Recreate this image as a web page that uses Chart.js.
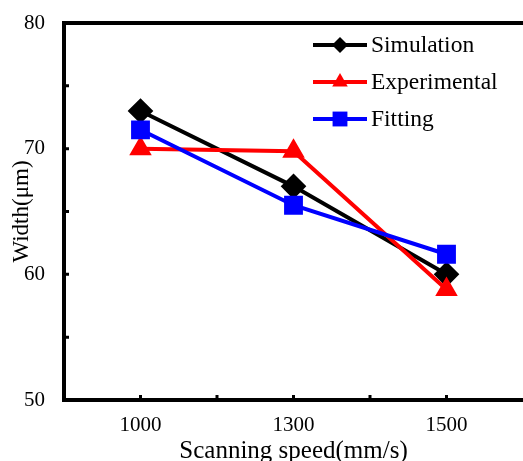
<!DOCTYPE html>
<html>
<head>
<meta charset="utf-8">
<script src="https://cdn.jsdelivr.net/npm/chart.js@4/dist/chart.umd.min.js"></script>
<style>
html,body{margin:0;padding:0;background:#fff;overflow:hidden;}
#wrap{width:523px;height:461px;}
</style>
</head>
<body>
<div id="wrap"><canvas id="c" width="523" height="461"></canvas></div>
<script>
const categories = ['1000', '1300', '1500'];
const simulation = [73, 67, 60];
const experimental = [70, 69.8, 58.8];
const fitting = [71.5, 65.5, 61.6];
const yTicks = [50, 60, 70, 80];
const seriesNames = ['Simulation', 'Experimental', 'Fitting'];

const FONT = "'Liberation Serif', 'Times New Roman', serif";

const extras = {
  id: 'extras',
  afterDraw(chart) {
    const ctx = chart.ctx;
    const a = chart.chartArea;
    const xs = chart.scales.x, ys = chart.scales.y;
    ctx.save();
    // top border
    ctx.strokeStyle = '#000';
    ctx.lineWidth = 4;
    ctx.beginPath();
    ctx.moveTo(a.left - 2, a.top);
    ctx.lineTo(chart.width, a.top);
    ctx.stroke();
    // inward ticks x
    ctx.lineWidth = 3;
    ctx.beginPath();
    const step = xs.getPixelForValue(1) - xs.getPixelForValue(0);
    for (let i = 0; i < categories.length; i++) {
      const px = xs.getPixelForValue(i);
      ctx.moveTo(px, a.bottom); ctx.lineTo(px, a.bottom - 5);
      if (i < categories.length - 1) {
        const bx = px + step / 2;
        ctx.moveTo(bx, a.bottom); ctx.lineTo(bx, a.bottom - 5);
      }
    }
    // inward ticks y
    for (let v = 55; v < 80; v += 5) {
      const py = ys.getPixelForValue(v);
      ctx.moveTo(a.left, py); ctx.lineTo(a.left + 5, py);
    }
    ctx.stroke();
    // legend
    const rows = [45, 82, 119];
    const legendRadius = [8, 9, 10.5];
    chart.data.datasets.forEach((ds, i) => {
      const y = rows[i];
      ctx.strokeStyle = ds.borderColor;
      ctx.lineWidth = 4;
      ctx.beginPath();
      ctx.moveTo(313, y); ctx.lineTo(367, y);
      ctx.stroke();
      ctx.fillStyle = ds.backgroundColor;
      Chart.helpers.drawPoint(ctx, {pointStyle: ds.pointStyle, radius: legendRadius[i], borderWidth: 0, rotation: 0}, 340, y);
      ctx.fillStyle = '#000';
      ctx.font = "23.5px " + FONT;
      ctx.textAlign = 'left';
      ctx.textBaseline = 'middle';
      ctx.fillText(ds.label, 371, y + 1);
    });
    ctx.restore();
  }
};

new Chart(document.getElementById('c'), {
  type: 'line',
  data: {
    labels: categories,
    datasets: [
      {label: seriesNames[0], data: simulation, borderColor: '#000000', backgroundColor: '#000000',
       pointStyle: 'rectRot', pointRadius: 10, borderWidth: 4, order: 2},
      {label: seriesNames[1], data: experimental, borderColor: '#ff0000', backgroundColor: '#ff0000',
       pointStyle: 'triangle', pointRadius: 9, borderWidth: 4, order: 1},
      {label: seriesNames[2], data: fitting, borderColor: '#0000ff', backgroundColor: '#0000ff',
       pointStyle: 'rect', pointRadius: 10.5, borderWidth: 4, order: 0}
    ]
  },
  options: {
    responsive: false,
    animation: false,
    layout: {autoPadding: false, padding: {top: 23, right: 0, left: 0, bottom: 0}},
    elements: {line: {tension: 0}, point: {borderWidth: 0, hoverRadius: 10}},
    plugins: {legend: {display: false}, tooltip: {enabled: false}},
    scales: {
      x: {
        type: 'category',
        offset: true,
        grid: {display: false, drawTicks: false},
        border: {display: true, color: '#000', width: 4},
        ticks: {color: '#000', font: {family: FONT, size: 21}, padding: 13},
        title: {display: true, text: 'Scanning speed(mm/s)', color: '#000',
                font: {family: FONT, size: 25}, padding: {top: 0, bottom: -5}},
        afterFit(s) { s.height = 61; s.paddingLeft = 0; s.paddingRight = 0; }
      },
      y: {
        min: 50, max: 80,
        afterBuildTicks(s) { s.ticks = yTicks.map(v => ({value: v})); },
        grid: {display: false, drawTicks: false},
        border: {display: true, color: '#000', width: 4},
        ticks: {color: '#000', font: {family: FONT, size: 21}, padding: 19},
        title: {display: true, text: 'Width(μm)', color: '#000',
                font: {family: FONT, size: 23}, padding: {top: 8, bottom: 0}},
        afterFit(s) { s.width = 64; s.paddingTop = 0; s.paddingBottom = 0; }
      }
    }
  },
  plugins: [extras]
});
</script>
</body>
</html>
